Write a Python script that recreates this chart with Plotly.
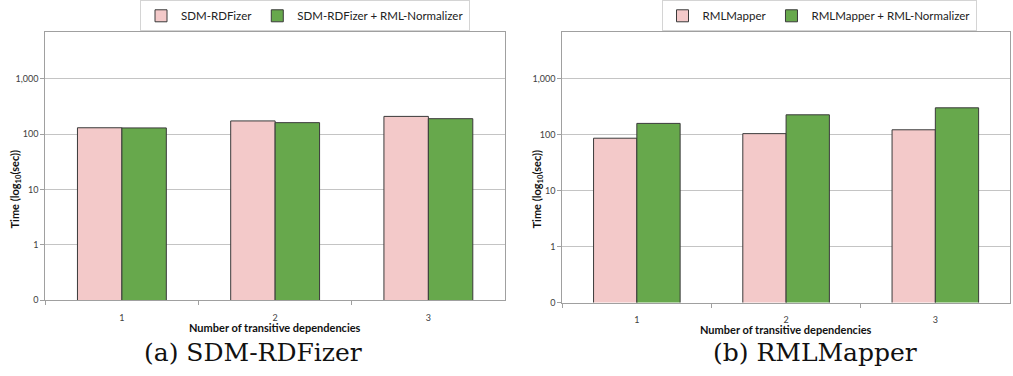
import plotly.graph_objects as go

# Number of transitive dependencies (category axis)
categories = ["1", "2", "3"]

# Execution times in seconds
sdm_rdfizer = [131, 174, 210]
sdm_rdfizer_norm = [130, 162, 191]
rmlmapper = [87, 105, 123]
rmlmapper_norm = [160, 228, 304]

# Log-axis tick labels (bottom gridline shown as "0")
y_tickvals = [0.1, 1, 10, 100, 1000]
y_ticktext = ["0", "1", "10", "100", "1,000"]

PINK = "#F3C9C9"
GREEN = "#67A84C"
OUTLINE = "#3a3a3a"
GRID = "#c4c4c4"
FONT = "Lato"

fig = go.Figure()

fig.add_trace(go.Bar(x=categories, y=sdm_rdfizer, name="SDM-RDFizer",
                     marker=dict(color=PINK, line=dict(color=OUTLINE, width=1)),
                     xaxis="x", yaxis="y", legend="legend"))
fig.add_trace(go.Bar(x=categories, y=sdm_rdfizer_norm, name="SDM-RDFizer + RML-Normalizer",
                     marker=dict(color=GREEN, line=dict(color=OUTLINE, width=1)),
                     xaxis="x", yaxis="y", legend="legend"))
fig.add_trace(go.Bar(x=categories, y=rmlmapper, name="RMLMapper",
                     marker=dict(color=PINK, line=dict(color=OUTLINE, width=1)),
                     xaxis="x2", yaxis="y2", legend="legend2"))
fig.add_trace(go.Bar(x=categories, y=rmlmapper_norm, name="RMLMapper + RML-Normalizer",
                     marker=dict(color=GREEN, line=dict(color=OUTLINE, width=1)),
                     xaxis="x2", yaxis="y2", legend="legend2"))

xaxis_common = dict(type="category", showgrid=False, showline=True, linecolor="#a0a0a0",
                    linewidth=1, mirror=True, ticks="outside", tickson="boundaries",
                    ticklen=4, tickcolor="#a0a0a0", ticklabelstandoff=9,
                    tickfont=dict(family=FONT, size=9, color="#404040"))
yaxis_common = dict(type="log", tickvals=y_tickvals, ticktext=y_ticktext,
                    showgrid=True, gridcolor=GRID, gridwidth=1, showline=True,
                    linecolor="#a0a0a0", linewidth=1, mirror=True, ticks="outside",
                    ticklen=4, tickcolor="#a0a0a0", zeroline=False,
                    tickfont=dict(family=FONT, size=9, color="#404040"))

legend_common = dict(orientation="h", xanchor="center", yanchor="middle",
                     bgcolor="white", bordercolor="#d4d4d4", borderwidth=1,
                     font=dict(family=FONT, size=11.5, color="#222222"),
                     itemwidth=30, tracegroupgap=0,
                     itemclick=False, itemdoubleclick=False)

fig.update_layout(
    width=1013, height=376, autosize=False,
    margin=dict(l=0, r=0, t=0, b=0),
    paper_bgcolor="white", plot_bgcolor="white",
    barmode="group", bargap=0.42, bargroupgap=0,
    xaxis=dict(domain=[0.0447, 0.4985], anchor="y", **xaxis_common),
    yaxis=dict(domain=[0.1907, 0.915], anchor="x", range=[-1, 3.856], **yaxis_common),
    xaxis2=dict(domain=[0.555, 0.997], anchor="y2", **xaxis_common),
    yaxis2=dict(domain=[0.1843, 0.914], anchor="x2", range=[-1, 3.84], **yaxis_common),
    legend=dict(x=305 / 1013, y=1 - 16 / 376, **legend_common),
    legend2=dict(x=819 / 1013, y=1 - 16 / 376, **legend_common),
    showlegend=True,
)

# Axis titles
title_font = dict(family=FONT, size=11, color="#111111")
for xpix in (15, 537):
    fig.add_annotation(text="<b>Time (log<sub>10</sub>(sec))</b>", textangle=-90,
                       xref="paper", yref="paper", x=xpix / 1013, y=1 - 192 / 376,
                       xanchor="center", yanchor="middle",
                       showarrow=False, font=title_font)
for xref, ypix in (("x domain", 332), ("x2 domain", 334)):
    fig.add_annotation(text="<b>Number of transitive dependencies</b>",
                       xref=xref, yref="paper", x=0.5, y=1 - ypix / 376,
                       xanchor="center", yanchor="middle",
                       showarrow=False, font=title_font)

# Sub-figure captions
caption_font = dict(family="DejaVu Serif", size=25, color="#111111")
for label, xpix in (("(a) SDM-RDFizer", 253), ("(b) RMLMapper", 815)):
    fig.add_annotation(text=label, xref="paper", yref="paper",
                       x=xpix / 1013, y=1 - 357 / 376, xanchor="center", yanchor="middle",
                       showarrow=False, font=caption_font)

fig.write_html("out.html")
